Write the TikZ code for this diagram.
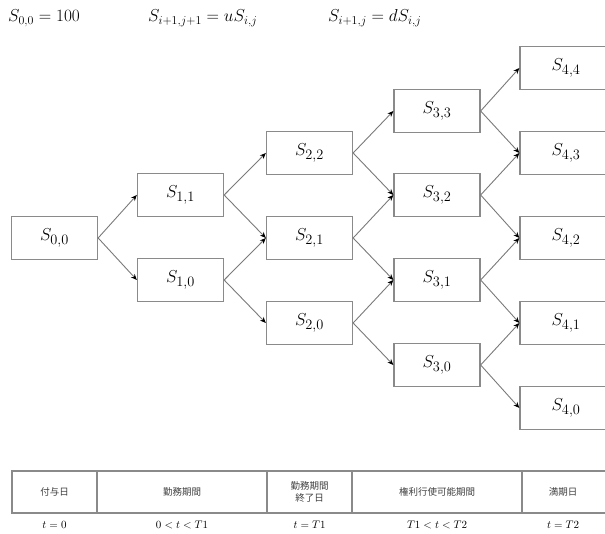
\documentclass[tikz,border=0pt]{standalone}
\usepackage{fontspec}
\setmainfont{Liberation Serif}
\newfontfamily\jpfont{Noto Sans CJK JP}
\usetikzlibrary{arrows.meta}
\definecolor{boxgray}{HTML}{8A8A8A}
\definecolor{linegray}{HTML}{7A7A7A}
\tikzset{
  stbox/.style={draw=boxgray, line width=1.3pt, minimum width=86pt, minimum height=43pt, inner sep=0pt, font=\fontsize{19}{22}\selectfont},
  lastbox/.style={stbox, minimum width=92pt},
  link/.style={draw=linegray, line width=0.9pt, -{Stealth[length=6pt,width=5pt,black]}},
  formula/.style={anchor=west, inner sep=0pt, font=\fontsize{18}{21}\selectfont},
  cell/.style={inner sep=0pt, font=\jpfont\fontsize{9.5}{12.5}\selectfont, align=center, text=black!75},
  tlabel/.style={inner sep=0pt, font=\fontsize{11}{13}\selectfont},
  tableline/.style={draw=boxgray, line width=1.6pt}
}
\begin{document}
\begin{tikzpicture}[x=1pt,y=1pt]
\useasboundingbox (0,0) rectangle (605,534);
\fill[white] (0,0) rectangle (605,534);
% formulas
\node[formula] (f1) at (8,516) {$S_{0,0}=100$};
\node[formula] (f2) at (148,516) {$S_{i+1,j+1}=uS_{i,j}$};
\node[formula] (f3) at (328,516) {$S_{i+1,j}=dS_{i,j}$};
% tree nodes
\node[stbox] (s00) at (54.5,296) {$S_{0,0}$};
\node[stbox] (s11) at (180.5,339) {$S_{1,1}$};
\node[stbox] (s10) at (180.5,254) {$S_{1,0}$};
\node[stbox] (s22) at (309.5,381) {$S_{2,2}$};
\node[stbox] (s21) at (309.5,296) {$S_{2,1}$};
\node[stbox] (s20) at (309.5,211) {$S_{2,0}$};
\node[stbox] (s33) at (437,423) {$S_{3,3}$};
\node[stbox] (s32) at (437,339) {$S_{3,2}$};
\node[stbox] (s31) at (437,254) {$S_{3,1}$};
\node[stbox] (s30) at (437,169) {$S_{3,0}$};
\node[lastbox] (s44) at (566,466) {$S_{4,4}$};
\node[lastbox] (s43) at (566,381) {$S_{4,3}$};
\node[lastbox] (s42) at (566,296) {$S_{4,2}$};
\node[lastbox] (s41) at (566,211) {$S_{4,1}$};
\node[lastbox] (s40) at (566,126) {$S_{4,0}$};
% links
\foreach \a/\b in {s00/s11,s00/s10,
  s11/s22,s11/s21,s10/s21,s10/s20,
  s22/s33,s22/s32,s21/s32,s21/s31,s20/s31,s20/s30,
  s33/s44,s33/s43,s32/s43,s32/s42,s31/s42,s31/s41,s30/s41,s30/s40}
  \draw[link] (\a.east) -- (\b.west);
% table
\coordinate (tl) at (12,63);
\coordinate (br) at (612,21);
\draw[tableline] (tl) rectangle (br);
\draw[tableline] (97,63) -- (97,21);
\draw[tableline] (267,63) -- (267,21);
\draw[tableline] (352,63) -- (352,21);
\draw[tableline] (522,63) -- (522,21);
\node[cell] (c1) at (54.5,42) {付与日};
\node[cell] (c2) at (182,42) {勤務期間};
\node[cell] (c3) at (309.5,42) {勤務期間\\終了日};
\node[cell] (c4) at (437,42) {権利行使可能期間};
\node[cell] (c5) at (563,42) {満期日};
\node[tlabel] (t1) at (54.5,9) {$t=0$};
\node[tlabel] (t2) at (182,9) {$0<t<T1$};
\node[tlabel] (t3) at (309.5,9) {$t=T1$};
\node[tlabel] (t4) at (437,9) {$T1<t<T2$};
\node[tlabel] (t5) at (563,9) {$t=T2$};
\end{tikzpicture}
\end{document}
